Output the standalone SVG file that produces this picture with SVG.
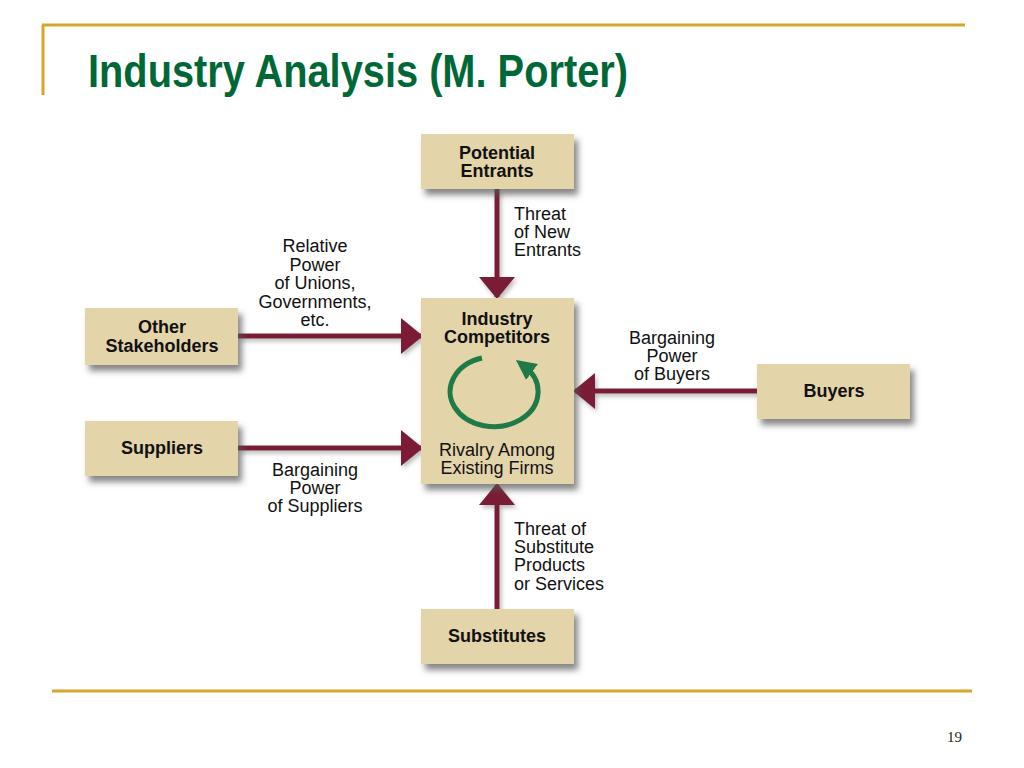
<svg xmlns="http://www.w3.org/2000/svg" width="1024" height="768" viewBox="0 0 1024 768">
<style>
.rule{stroke:#D4A62A;stroke-width:3;fill:none}
.box{fill:#E3D4A9}
.bt{font-family:"Liberation Sans",Arial,sans-serif;font-weight:bold;font-size:18px;fill:#111;text-anchor:middle}
.lbl{font-family:"Liberation Sans",Arial,sans-serif;font-size:18px;fill:#111}
.mid{text-anchor:middle}
.conn{stroke:#7A1E36;stroke-width:5;fill:none;marker-end:url(#ah)}
</style>
<defs>
<filter id="sh" x="-20%" y="-20%" width="150%" height="160%">
<feDropShadow dx="4" dy="6" stdDeviation="3" flood-color="#555" flood-opacity="0.7"/>
</filter>
<filter id="sh2" x="-20%" y="-20%" width="150%" height="160%">
<feDropShadow dx="2" dy="3" stdDeviation="2" flood-color="#777" flood-opacity="0.5"/>
</filter>
<marker id="ah" viewBox="0 0 22 36" refX="20" refY="18" markerWidth="22" markerHeight="36" markerUnits="userSpaceOnUse" orient="auto">
<path d="M0,0 L22,18 L0,36 Z" fill="#7A1E36"/>
</marker>
<marker id="gh" viewBox="0 0 20 20" refX="10" refY="10" markerWidth="20" markerHeight="20" markerUnits="userSpaceOnUse" orient="auto">
<path d="M0,0 L20,10 L0,20 Z" fill="#1F7A47"/>
</marker>
</defs>
<rect width="1024" height="768" fill="#fff"/>
<g id="frame">
<path class="rule" d="M42,25 H965 M43,25 V95"/>
<path class="rule" d="M52,691 H972"/>
<text x="88" y="87" font-family="Liberation Sans,Arial,sans-serif" font-weight="bold" font-size="46" fill="#006837" textLength="540" lengthAdjust="spacingAndGlyphs">Industry Analysis (M. Porter)</text>
<text x="962" y="742" font-family="Liberation Serif,serif" font-size="15" fill="#222" text-anchor="end">19</text>
</g>
<g id="connectors" filter="url(#sh2)">
<line class="conn" x1="497" y1="189" x2="497" y2="297"/>
<line class="conn" x1="238" y1="336" x2="421" y2="336"/>
<line class="conn" x1="238" y1="448" x2="421" y2="448"/>
<line class="conn" x1="757" y1="391" x2="575" y2="391"/>
<line class="conn" x1="497" y1="609" x2="497" y2="485"/>
</g>
<g id="potential-entrants">
<rect class="box" x="421" y="134" width="153" height="55" filter="url(#sh)"/>
<text class="bt" x="497" y="159">Potential</text>
<text class="bt" x="497" y="177">Entrants</text>
</g>
<g id="other-stakeholders">
<rect class="box" x="85" y="308" width="153" height="57" filter="url(#sh)"/>
<text class="bt" x="162" y="333">Other</text>
<text class="bt" x="162" y="352">Stakeholders</text>
</g>
<g id="suppliers">
<rect class="box" x="85" y="421" width="153" height="55" filter="url(#sh)"/>
<text class="bt" x="162" y="454">Suppliers</text>
</g>
<g id="industry-competitors">
<rect class="box" x="421" y="298" width="153" height="186" filter="url(#sh)"/>
<text class="bt" x="497" y="325">Industry</text>
<text class="bt" x="497" y="343">Competitors</text>
<path d="M482,358 A44,35 0 1,0 524,366" fill="none" stroke="#1F7A47" stroke-width="5" marker-end="url(#gh)"/>
<text class="lbl mid" x="497" y="456">Rivalry Among</text>
<text class="lbl mid" x="497" y="474">Existing Firms</text>
</g>
<g id="buyers">
<rect class="box" x="757" y="364" width="153" height="55" filter="url(#sh)"/>
<text class="bt" x="834" y="397">Buyers</text>
</g>
<g id="substitutes">
<rect class="box" x="421" y="609" width="153" height="55" filter="url(#sh)"/>
<text class="bt" x="497" y="642">Substitutes</text>
</g>
<g id="labels">
<text class="lbl" x="514" y="220">Threat</text>
<text class="lbl" x="514" y="238">of New</text>
<text class="lbl" x="514" y="256">Entrants</text>
<text class="lbl mid" x="315" y="252">Relative</text>
<text class="lbl mid" x="315" y="271">Power</text>
<text class="lbl mid" x="315" y="289">of Unions,</text>
<text class="lbl mid" x="315" y="308">Governments,</text>
<text class="lbl mid" x="315" y="326">etc.</text>
<text class="lbl mid" x="672" y="344">Bargaining</text>
<text class="lbl mid" x="672" y="362">Power</text>
<text class="lbl mid" x="672" y="380">of Buyers</text>
<text class="lbl mid" x="315" y="476">Bargaining</text>
<text class="lbl mid" x="315" y="494">Power</text>
<text class="lbl mid" x="315" y="512">of Suppliers</text>
<text class="lbl" x="514" y="535">Threat of</text>
<text class="lbl" x="514" y="553">Substitute</text>
<text class="lbl" x="514" y="571">Products</text>
<text class="lbl" x="514" y="590">or Services</text>
</g>
</svg>
